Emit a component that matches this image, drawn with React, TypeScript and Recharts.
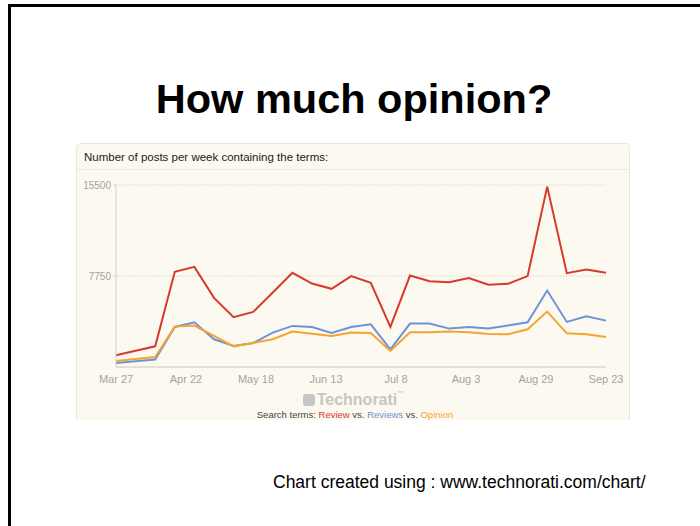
import React from 'react';
import { LineChart, Line, XAxis, YAxis, CartesianGrid } from 'recharts';

// weekly post counts, Mar 27 -> Sep 23 (26 weeks)
const review = [1000, 1390, 1760, 8110, 8530, 5890, 4240, 4690, 6350, 8020, 7110, 6660, 7740, 7170, 3410, 7790, 7310, 7220, 7570, 7000, 7080, 7740, 15360, 7990, 8300, 8020];
const reviews = [340, 480, 630, 3410, 3810, 2360, 1790, 2050, 2930, 3500, 3410, 2900, 3410, 3640, 1510, 3700, 3700, 3270, 3410, 3270, 3530, 3810, 6510, 3840, 4320, 3950];
const opinion = [510, 680, 850, 3440, 3530, 2650, 1760, 2050, 2360, 3020, 2840, 2650, 2930, 2900, 1370, 2960, 2960, 3020, 2960, 2820, 2790, 3210, 4720, 2870, 2790, 2560];

const dateLabels = ['Mar 27', 'Apr 22', 'May 18', 'Jun 13', 'Jul 8', 'Aug 3', 'Aug 29', 'Sep 23'];
const yTicks = [7750, 15500];

const lastWeek = review.length - 1;
const xTicks = dateLabels.map((_, i) => (i * lastWeek) / (dateLabels.length - 1));

const chartData = review.map((v, i) => ({
  week: i,
  review: v,
  reviews: reviews[i],
  opinion: opinion[i],
}));

const FONT = '"Liberation Sans", Arial, sans-serif';
const RED = '#d9382c';
const BLUE = '#6f92d8';
const ORANGE = '#f4a430';

const App: React.FC = () => {
  return (
    <div
      style={{
        position: 'absolute',
        left: 0,
        top: 0,
        width: 700,
        height: 526,
        background: '#fff',
        overflow: 'hidden',
        fontFamily: FONT,
      }}
    >
      {/* slide frame (only top and left edges visible) */}
      <div style={{ position: 'absolute', left: 8, top: 4, width: 700, height: 530, borderLeft: '3px solid #000', borderTop: '3px solid #000' }} />

      <div
        style={{
          position: 'absolute',
          left: 4,
          width: 700,
          top: 74,
          textAlign: 'center',
          fontSize: 41.5,
          fontWeight: 'bold',
          lineHeight: '50px',
          color: '#000',
        }}
      >
        How much opinion?
      </div>

      {/* chart panel */}
      <div
        style={{
          position: 'absolute',
          left: 76,
          top: 143,
          width: 552,
          height: 276,
          background: '#fcfaf0',
          border: '1px solid #ebe7d6',
          borderBottom: 'none',
          borderRadius: '5px 5px 0 0',
          overflow: 'hidden',
        }}
      >
        <div
          style={{
            height: 25,
            borderBottom: '1px solid #efebdc',
            fontSize: 11.5,
            lineHeight: '27px',
            paddingLeft: 7,
            color: '#1a1a1a',
          }}
        >
          Number of posts per week containing the terms:
        </div>
        <div style={{ position: 'absolute', left: 0, top: 239, width: 552, textAlign: 'center', fontSize: 16, fontWeight: 'bold', color: '#c6c6c6', lineHeight: '20px' }}>
          <span
            style={{
              display: 'inline-block',
              width: 12,
              height: 12,
              borderRadius: 3,
              background: '#c6c6c6',
              marginRight: 2,
              verticalAlign: '-1px',
            }}
          />
          Technorati
          <span style={{ fontSize: 6, verticalAlign: '10px' }}>™</span>
        </div>
        <div style={{ position: 'absolute', left: 0, top: 264, width: 556, textAlign: 'center', fontSize: 9.5, color: '#444', lineHeight: '14px' }}>
          Search terms: <span style={{ color: RED }}>Review</span> vs. <span style={{ color: BLUE }}>Reviews</span> vs.{' '}
          <span style={{ color: ORANGE }}>Opinion</span>
        </div>
      </div>

      <div style={{ position: 'absolute', left: 76, top: 170 }}>
        <LineChart width={554} height={246} data={chartData} margin={{ top: 15, right: 24, bottom: 29, left: 0 }}>
          <CartesianGrid vertical={false} stroke="#e2dfd2" strokeDasharray="2 1" />
          <XAxis
            dataKey="week"
            type="number"
            domain={[0, lastWeek]}
            ticks={xTicks}
            tickFormatter={(_v: number, i: number) => dateLabels[i]}
            height={20}
            axisLine={{ stroke: '#d2d0c8' }}
            tickLine={false}
            tick={{ fontSize: 11, fill: '#a3a3a3', fontFamily: FONT }}
            interval={0}
          />
          <YAxis
            domain={[0, 15500]}
            ticks={yTicks}
            width={40}
            axisLine={{ stroke: '#d2d0c8' }}
            tickLine={{ stroke: '#d2d0c8' }}
            tickSize={3}
            tick={{ fontSize: 10, fill: '#a3a3a3', fontFamily: FONT }}
          />
          <Line type="linear" dataKey="review" stroke={RED} strokeWidth={2} dot={false} isAnimationActive={false} />
          <Line type="linear" dataKey="reviews" stroke={BLUE} strokeWidth={2} dot={false} isAnimationActive={false} />
          <Line type="linear" dataKey="opinion" stroke={ORANGE} strokeWidth={2} dot={false} isAnimationActive={false} />
        </LineChart>
      </div>

      <div style={{ position: 'absolute', left: 273, top: 471, fontSize: 17.5, color: '#000', lineHeight: '22px', whiteSpace: 'nowrap' }}>
        Chart created using : www.technorati.com/chart/
      </div>
    </div>
  );
};

export default App;
